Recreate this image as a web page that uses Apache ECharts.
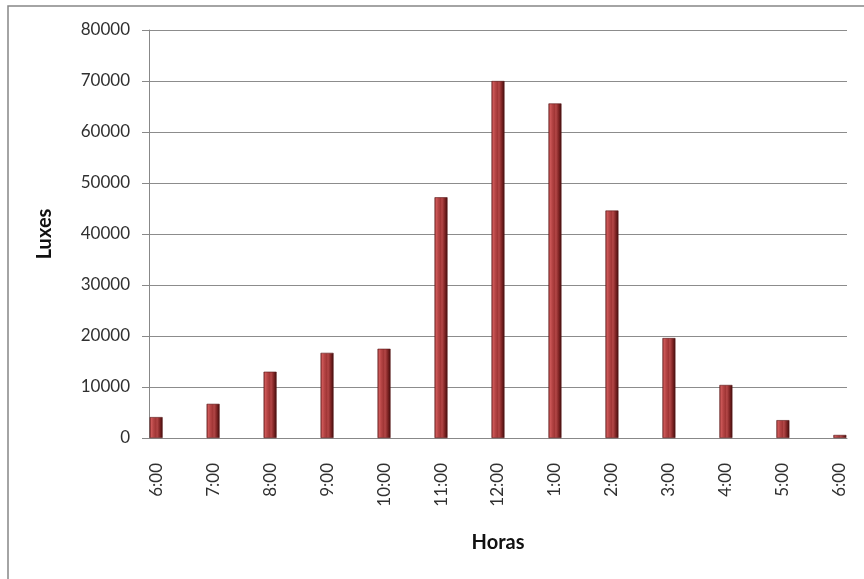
<!DOCTYPE html>
<html>
<head>
<meta charset="utf-8">
<script src="https://cdn.jsdelivr.net/npm/echarts@6/dist/echarts.min.js"></script>
<style>
  html, body { margin: 0; padding: 0; background: #fff; }
  #chart { width: 864px; height: 579px; }
</style>
</head>
<body>
<div id="chart"></div>
<script>
// Hourly illuminance readings, 6:00 through 6:00 (12-hour clock)
const hourLabels = ['6:00', '7:00', '8:00', '9:00', '10:00', '11:00', '12:00',
                    '1:00', '2:00', '3:00', '4:00', '5:00', '6:00'];
const luxValues = [4100, 6700, 13000, 16700, 17500, 47200, 70000,
                   65600, 44600, 19600, 10400, 3500, 600];
const yTicks = [0, 10000, 20000, 30000, 40000, 50000, 60000, 70000, 80000];

// The time axis runs in quarter-hour slots; readings sit on the full hours.
const slotsPerHour = 4;
const slotCount = (hourLabels.length - 1) * slotsPerHour + 1;
const slots = [];
const slotValues = [];
for (let i = 0; i < slotCount; i++) {
  slots.push('s' + i);
  slotValues.push(i % slotsPerHour === 0 ? luxValues[i / slotsPerHour] : null);
}

const barFill = new echarts.graphic.LinearGradient(0, 0, 1, 0, [
  { offset: 0, color: '#7e2626' },
  { offset: 0.12, color: '#cf5a5a' },
  { offset: 0.3, color: '#b44444' },
  { offset: 0.5, color: '#9e3434' },
  { offset: 0.56, color: '#b84a4a' },
  { offset: 0.8, color: '#7c2222' },
  { offset: 1, color: '#3e0e0e' }
]);

const chart = echarts.init(document.getElementById('chart'), null, { renderer: 'canvas' });
chart.setOption({
  animation: false,
  backgroundColor: '#ffffff',
  textStyle: { fontFamily: 'Lato, "Open Sans", sans-serif' },
  graphic: [{
    type: 'rect',
    shape: { x: 8, y: 6, width: 900, height: 620 },
    style: { fill: 'none', stroke: '#868686', lineWidth: 1.5 },
    silent: true
  }],
  grid: { left: 149, right: 17, top: 30, bottom: 141, containLabel: false },
  xAxis: {
    type: 'category',
    data: slots,
    boundaryGap: true,
    name: 'Horas',
    nameLocation: 'middle',
    nameGap: 95,
    nameTextStyle: { fontSize: 20, fontWeight: 'bold', color: '#111' },
    axisLine: { lineStyle: { color: '#888', width: 1 } },
    axisTick: { interval: 0, length: 6, lineStyle: { color: '#888' } },
    axisLabel: {
      interval: slotsPerHour - 1,
      rotate: 90,
      margin: 25,
      fontSize: 17,
      color: '#303030',
      formatter: function (v, idx) {
        return idx % slotsPerHour === 0 ? hourLabels[idx / slotsPerHour] : '';
      }
    },
    splitLine: { show: false }
  },
  yAxis: {
    type: 'value',
    min: yTicks[0],
    max: yTicks[yTicks.length - 1],
    interval: yTicks[1] - yTicks[0],
    name: 'Luxes',
    nameLocation: 'middle',
    nameGap: 94,
    nameTextStyle: { fontSize: 20, fontWeight: 'bold', color: '#111' },
    axisLine: { show: true, lineStyle: { color: '#888', width: 1 } },
    axisTick: { show: true, inside: false, length: 7, lineStyle: { color: '#888' } },
    axisLabel: {
      margin: 19,
      fontSize: 17,
      color: '#303030',
      formatter: function (v) { return String(v); }
    },
    splitLine: { lineStyle: { color: '#8c8c8c', width: 1 } }
  },
  series: [{
    type: 'bar',
    data: slotValues,
    barWidth: 13,
    itemStyle: {
      color: barFill,
      borderColor: '#5a1818',
      borderWidth: 0.6
    }
  }]
});
</script>
</body>
</html>
